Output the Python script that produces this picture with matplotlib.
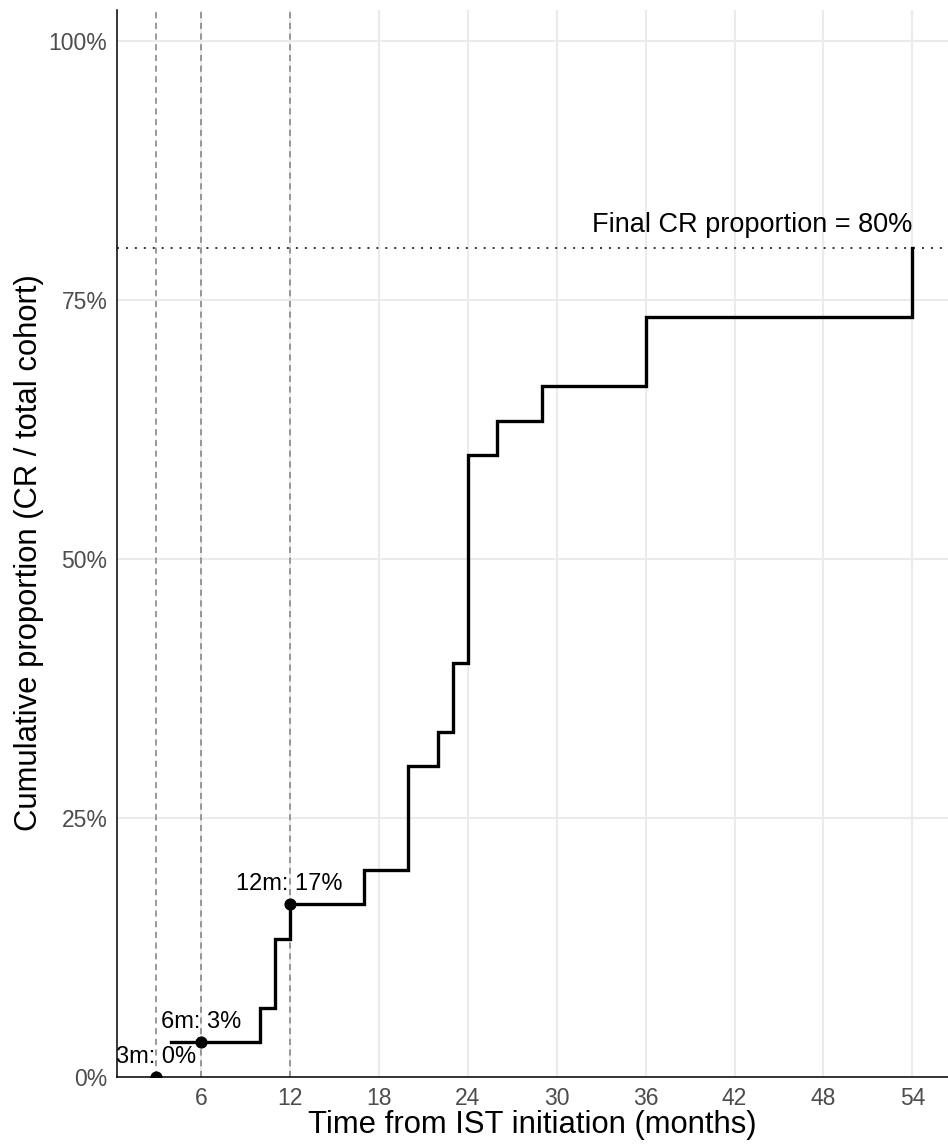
import matplotlib
matplotlib.use("Agg")
import matplotlib.pyplot as plt
import numpy as np
from matplotlib.ticker import PercentFormatter

plt.rcParams["font.family"] = ["Liberation Sans", "DejaVu Sans"]

# cohort and event times (months) with cumulative complete responses
cohort_size = 30
event_months = [4, 10, 11, 12, 17, 20, 22, 23, 24, 26, 29, 36, 54]
cum_responders = [1, 2, 4, 5, 6, 9, 10, 12, 18, 19, 20, 22, 24]

landmark_months = [3, 6, 12]
landmark_props = [0 / 30, 1 / 30, 5 / 30]
landmark_labels = ["3m: 0%", "6m: 3%", "12m: 17%"]

final_prop = 24 / 30
x_ticks = [6, 12, 18, 24, 30, 36, 42, 48, 54]
y_ticks = [0, 0.25, 0.5, 0.75, 1.0]

props = np.array(cum_responders) / cohort_size

fig = plt.figure(figsize=(9.48, 11.44), dpi=100)
ax = fig.add_axes([0.1234, 0.0586, 0.8766, 0.9327])

ax.set_xlim(0.35, 56.4)
ax.set_ylim(0, 1.03)
ax.set_xticks(x_ticks)
ax.set_yticks(y_ticks)
ax.yaxis.set_major_formatter(PercentFormatter(1, decimals=0))
ax.grid(True, color="#EBEBEB", linewidth=1.5, zorder=0)
ax.set_axisbelow(True)
ax.tick_params(length=0, labelsize=16.5, labelcolor="#4D4D4D", pad=7)

for side in ["top", "right"]:
    ax.spines[side].set_visible(False)
for side in ["left", "bottom"]:
    ax.spines[side].set_color("black")
    ax.spines[side].set_linewidth(1.1)

# landmark reference lines
for m in landmark_months:
    ax.axvline(m, color="#7F7F7F", linestyle=(0, (4, 3)), linewidth=1.1, zorder=1)

ax.axhline(final_prop, color="#333333", linestyle=(0, (1, 3.6)), linewidth=1.4, zorder=1)
ax.text(event_months[-1], final_prop + 0.01, f"Final CR proportion = {final_prop:.0%}",
        ha="right", va="bottom", fontsize=19.5, color="black")

ax.step(event_months, props, where="post", color="black", linewidth=2.4,
        solid_joinstyle="miter", zorder=3)

ax.scatter(landmark_months, landmark_props, s=60, color="black", zorder=4,
           clip_on=True)
for m, p, lab in zip(landmark_months, landmark_props, landmark_labels):
    ax.text(m, p + 0.009, lab, ha="center", va="bottom", fontsize=17,
            color="black", clip_on=True, zorder=5)

fig.text(0.5617, 0.0165, "Time from IST initiation (months)", ha="center",
         va="center", fontsize=22.3)
fig.text(0.031, 0.517, "Cumulative proportion (CR / total cohort)", ha="center",
         va="center", rotation=90, fontsize=22.3)

fig.savefig("out.png", dpi=100)
